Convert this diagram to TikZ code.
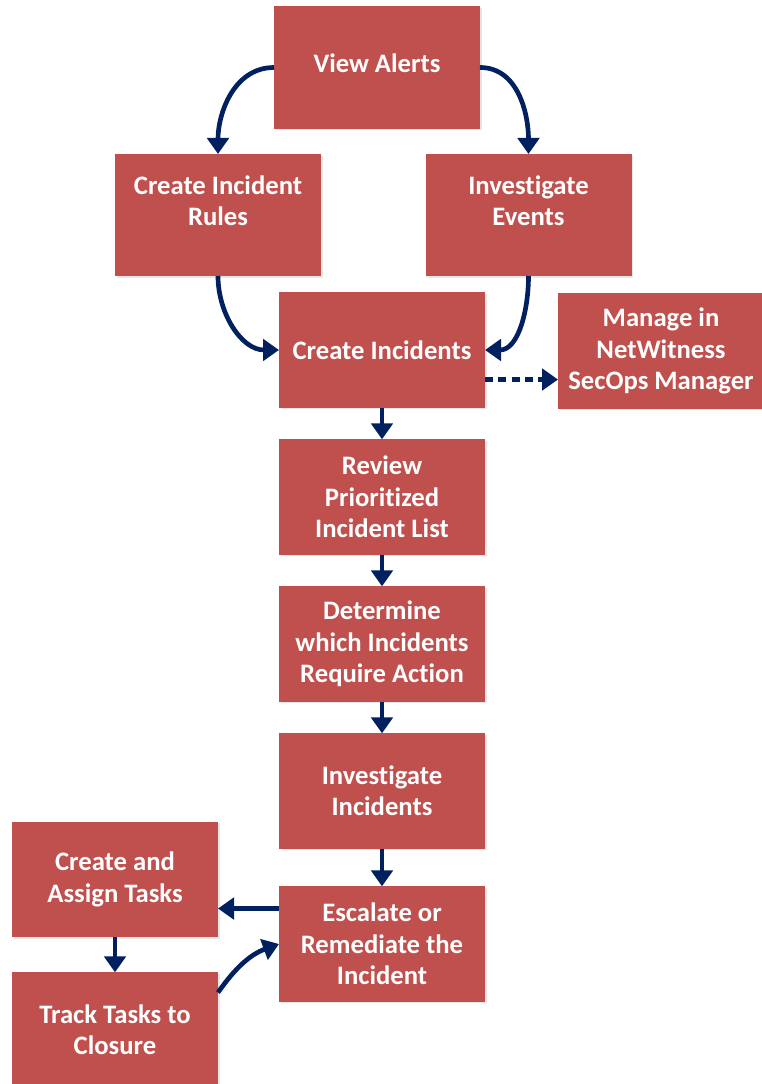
\documentclass[tikz,border=0pt]{standalone}
\usepackage{fontspec}
\setmainfont{Carlito}[Ligatures=NoCommon]
\usetikzlibrary{arrows.meta,shadows}
\definecolor{boxred}{HTML}{C0504D}
\definecolor{navy}{HTML}{002060}

\begin{document}
\begin{tikzpicture}[x=0.75pt,y=-0.75pt,inner sep=0pt,outer sep=0pt,
procblock/.style={rectangle,fill=boxred,draw=none,minimum width=154.5pt,minimum height=86.5pt,align=center,text=white,
  font=\fontsize{20}{23.5}\selectfont\bfseries,drop shadow={shadow xshift=1.2pt,shadow yshift=-1.2pt,opacity=0.2}},
link/.style={draw=navy,line width=3.5pt,-{Triangle[width=16pt,length=12pt]}}]
\useasboundingbox (0,0) rectangle (762,1084);

\draw (377,67.5) node[procblock,minimum height=92pt,text depth=6pt] (view) {View Alerts};
\draw (218,215) node[procblock,minimum height=91.5pt,text depth=22pt] (rules) {Create Incident\\Rules};
\draw (528.5,215) node[procblock,minimum height=91.5pt,text depth=22pt] (events) {Investigate\\Events};
\draw (382,350) node[procblock] (incid) {Create Incidents};
\draw (661,351) node[procblock] (manage) {Manage in\\NetWitness\\SecOps Manager};
\draw (382,497) node[procblock] (review) {Review\\Prioritized\\Incident List};
\draw (382,644) node[procblock] (determ) {Determine\\which Incidents\\Require Action};
\draw (382,791) node[procblock] (invest) {Investigate\\Incidents};
\draw (382,944) node[procblock] (escal) {Escalate or\\Remediate the\\Incident};
\draw (115,879.5) node[procblock] (assign) {Create and\\Assign Tasks};
\draw (115,1030) node[procblock] (track) {Track Tasks to\\Closure};

\draw[link] (view.west) to[out=180,in=90] (rules.north);
\draw[link] (view.east) to[out=0,in=90] (events.north);
\draw[link] (rules.south) to[out=-90,in=180] (incid.west);
\draw[link] (events.south) to[out=-90,in=0] (incid.east);
\draw[link,dash pattern=on 6pt off 4pt] (incid.-16) -- (incid.-16 -| manage.west);
\draw[link] (incid) -- (review);
\draw[link] (review) -- (determ);
\draw[link] (determ) -- (invest);
\draw[link] (invest) -- (escal);
\draw[link] (escal.161) -- (escal.161 -| assign.east);
\draw[link] (assign) -- (track);
\draw[link] (track.20) to[out=55,in=200] (escal.west);
\end{tikzpicture}
\end{document}
